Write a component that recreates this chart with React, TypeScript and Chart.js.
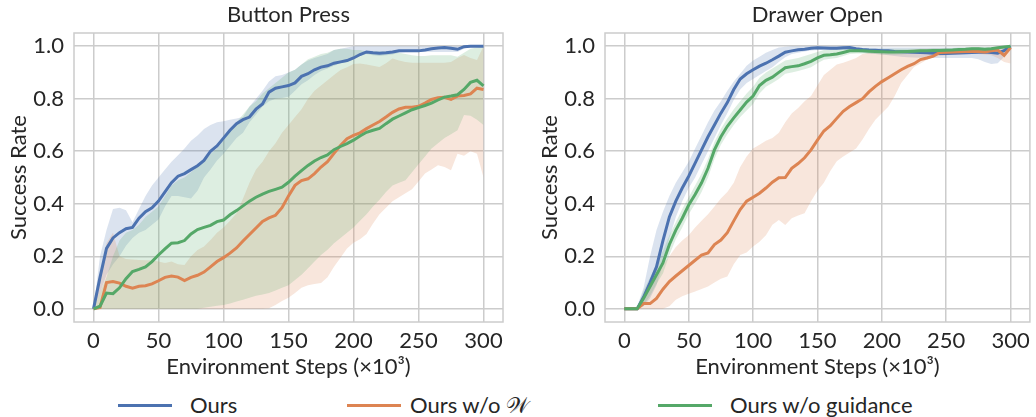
import React, { useEffect, useRef } from "react";
import { Chart, registerables } from "chart.js";

Chart.register(...registerables);

const FONT = "Lato";
const TEXT = "#262626";
const GRID = "#cccccc";

const steps = [0, 5, 10, 15, 20, 25, 30, 35, 40, 45, 50, 55, 60, 65, 70, 75, 80, 85, 90, 95, 100, 105, 110, 115, 120, 125, 130, 135, 140, 145, 150, 155, 160, 165, 170, 175, 180, 185, 190, 195, 200, 205, 210, 215, 220, 225, 230, 235, 240, 245, 250, 255, 260, 265, 270, 275, 280, 285, 290, 295, 300];
const xTicks = [0, 50, 100, 150, 200, 250, 300];
const yTicks = [0, 0.2, 0.4, 0.6, 0.8, 1.0];

const seriesNames = ["Ours", "Ours w/o 𝒲", "Ours w/o guidance"];
const lineColors = ["#4C72B0", "#DD8452", "#55A868"];
const bandColors = ["rgba(76,114,176,0.2)", "rgba(221,132,82,0.2)", "rgba(85,168,104,0.2)"];

// ---------- Button Press ----------
const bpOurs = [0, 0.12, 0.23, 0.27, 0.29, 0.305, 0.31, 0.345, 0.37, 0.385, 0.41, 0.445, 0.48, 0.505, 0.515, 0.53, 0.545, 0.565, 0.6, 0.62, 0.65, 0.68, 0.705, 0.72, 0.73, 0.76, 0.78, 0.825, 0.84, 0.845, 0.85, 0.86, 0.885, 0.895, 0.91, 0.92, 0.925, 0.935, 0.94, 0.945, 0.955, 0.968, 0.978, 0.975, 0.973, 0.975, 0.978, 0.982, 0.982, 0.982, 0.982, 0.985, 0.99, 0.993, 0.995, 0.992, 0.988, 0.998, 1.0, 1.0, 1.0];
const bpOursHi = [0, 0.2, 0.3, 0.38, 0.385, 0.375, 0.33, 0.38, 0.43, 0.47, 0.5, 0.53, 0.56, 0.585, 0.61, 0.64, 0.66, 0.685, 0.7, 0.71, 0.714, 0.72, 0.725, 0.73, 0.77, 0.8, 0.83, 0.865, 0.885, 0.89, 0.9, 0.91, 0.93, 0.945, 0.955, 0.962, 0.97, 0.985, 0.99, 0.995, 1.0, 1.0, 1.0, 1.0, 1.0, 1.0, 1.0, 1.0, 1.0, 1.0, 1.0, 1.0, 1.0, 1.0, 1.0, 1.0, 1.0, 1.0, 1.0, 1.0, 1.0];
const bpOursLo = [0, 0.06, 0.13, 0.17, 0.2, 0.24, 0.27, 0.29, 0.3, 0.32, 0.34, 0.39, 0.43, 0.43, 0.425, 0.42, 0.45, 0.5, 0.53, 0.565, 0.59, 0.62, 0.65, 0.67, 0.71, 0.74, 0.77, 0.79, 0.8, 0.803, 0.807, 0.83, 0.855, 0.87, 0.89, 0.905, 0.915, 0.925, 0.935, 0.94, 0.95, 0.962, 0.97, 0.965, 0.962, 0.965, 0.968, 0.975, 0.978, 0.978, 0.978, 0.978, 0.978, 0.978, 0.978, 0.978, 0.978, 0.99, 1.0, 1.0, 1.0];

const bpNoW = [0, 0.005, 0.1, 0.104, 0.098, 0.086, 0.079, 0.086, 0.088, 0.095, 0.107, 0.12, 0.125, 0.121, 0.108, 0.12, 0.128, 0.14, 0.16, 0.18, 0.195, 0.212, 0.232, 0.258, 0.283, 0.308, 0.333, 0.346, 0.356, 0.385, 0.43, 0.47, 0.488, 0.495, 0.515, 0.54, 0.56, 0.592, 0.622, 0.648, 0.66, 0.67, 0.686, 0.7, 0.713, 0.73, 0.748, 0.761, 0.767, 0.767, 0.771, 0.783, 0.797, 0.804, 0.805, 0.797, 0.81, 0.812, 0.818, 0.84, 0.835];
const bpNoWHi = [0, 0.12, 0.25, 0.29, 0.2, 0.19, 0.188, 0.186, 0.185, 0.185, 0.18, 0.175, 0.18, 0.17, 0.167, 0.2, 0.224, 0.237, 0.262, 0.29, 0.31, 0.335, 0.364, 0.42, 0.48, 0.53, 0.56, 0.6, 0.63, 0.67, 0.7, 0.73, 0.76, 0.8, 0.83, 0.85, 0.87, 0.89, 0.909, 0.92, 0.932, 0.934, 0.93, 0.925, 0.921, 0.935, 0.953, 0.945, 0.94, 0.937, 0.937, 0.937, 0.937, 0.937, 0.937, 0.94, 0.955, 0.966, 0.955, 0.947, 1.0];
const bpNoWLo = [0, 0, 0, 0, 0, 0, 0, 0, 0, 0, 0, 0, 0, 0, 0, 0, 0, 0, 0, 0, 0, 0, 0, 0, 0, 0, 0, 0.002, 0.015, 0.03, 0.042, 0.06, 0.08, 0.09, 0.095, 0.098, 0.12, 0.16, 0.195, 0.23, 0.252, 0.265, 0.285, 0.325, 0.36, 0.385, 0.41, 0.425, 0.44, 0.455, 0.485, 0.515, 0.53, 0.547, 0.54, 0.528, 0.59, 0.583, 0.6, 0.59, 0.5];

const bpNoGuide = [0, 0.01, 0.06, 0.058, 0.08, 0.115, 0.142, 0.15, 0.16, 0.18, 0.205, 0.228, 0.25, 0.252, 0.26, 0.285, 0.302, 0.31, 0.318, 0.332, 0.338, 0.358, 0.374, 0.392, 0.41, 0.425, 0.437, 0.447, 0.455, 0.463, 0.482, 0.505, 0.526, 0.546, 0.563, 0.576, 0.586, 0.606, 0.618, 0.629, 0.642, 0.658, 0.672, 0.68, 0.687, 0.705, 0.722, 0.734, 0.746, 0.758, 0.766, 0.774, 0.783, 0.795, 0.806, 0.81, 0.815, 0.835, 0.862, 0.87, 0.849];
const bpNoGuideHi = [0, 0.06, 0.12, 0.2, 0.26, 0.29, 0.3, 0.32, 0.35, 0.37, 0.39, 0.43, 0.47, 0.49, 0.5, 0.52, 0.54, 0.56, 0.59, 0.61, 0.64, 0.68, 0.71, 0.74, 0.77, 0.79, 0.82, 0.84, 0.86, 0.88, 0.9, 0.91, 0.93, 0.95, 0.96, 0.97, 0.975, 0.985, 0.99, 0.99, 0.985, 0.985, 0.98, 0.98, 0.98, 0.98, 0.98, 0.975, 0.97, 0.965, 0.962, 0.962, 0.965, 0.965, 0.965, 0.965, 0.96, 0.975, 0.99, 0.995, 1.0];
const bpNoGuideLo = [0, 0, 0, 0, 0, 0, 0, 0, 0, 0, 0, 0, 0, 0, 0, 0, 0, 0.004, 0.008, 0.012, 0.015, 0.02, 0.028, 0.035, 0.042, 0.05, 0.055, 0.06, 0.07, 0.08, 0.09, 0.11, 0.13, 0.155, 0.18, 0.205, 0.225, 0.25, 0.27, 0.29, 0.31, 0.335, 0.36, 0.39, 0.415, 0.445, 0.47, 0.48, 0.49, 0.52, 0.55, 0.58, 0.61, 0.63, 0.65, 0.665, 0.68, 0.738, 0.735, 0.72, 0.7];

// ---------- Drawer Open ----------
const doOurs = [0, 0, 0, 0.045, 0.1, 0.16, 0.26, 0.35, 0.41, 0.46, 0.505, 0.555, 0.605, 0.655, 0.7, 0.745, 0.785, 0.835, 0.875, 0.895, 0.91, 0.924, 0.935, 0.948, 0.962, 0.977, 0.982, 0.986, 0.988, 0.992, 0.994, 0.993, 0.992, 0.992, 0.994, 0.995, 0.99, 0.987, 0.985, 0.984, 0.982, 0.982, 0.98, 0.979, 0.978, 0.977, 0.976, 0.975, 0.973, 0.972, 0.972, 0.973, 0.974, 0.975, 0.976, 0.977, 0.978, 0.976, 0.973, 0.983, 1.0];
const doOursHi = [0, 0, 0.01, 0.08, 0.2, 0.3, 0.37, 0.43, 0.48, 0.52, 0.56, 0.61, 0.66, 0.71, 0.755, 0.79, 0.83, 0.865, 0.895, 0.925, 0.945, 0.96, 0.975, 0.985, 0.995, 0.998, 1.0, 1.0, 1.0, 1.0, 1.0, 1.0, 1.0, 1.0, 1.0, 1.0, 0.995, 0.995, 0.995, 0.995, 0.995, 0.995, 0.995, 0.995, 0.995, 0.995, 0.995, 0.995, 0.995, 0.995, 0.995, 0.995, 0.995, 0.995, 0.995, 0.995, 0.995, 0.995, 0.995, 1.0, 1.0];
const doOursLo = [0, 0, 0, 0.01, 0.04, 0.09, 0.17, 0.27, 0.35, 0.41, 0.46, 0.5, 0.55, 0.6, 0.65, 0.7, 0.745, 0.795, 0.835, 0.86, 0.875, 0.89, 0.905, 0.92, 0.94, 0.958, 0.97, 0.975, 0.98, 0.983, 0.985, 0.985, 0.985, 0.985, 0.985, 0.985, 0.98, 0.975, 0.972, 0.97, 0.968, 0.965, 0.962, 0.96, 0.958, 0.957, 0.956, 0.955, 0.955, 0.955, 0.955, 0.955, 0.955, 0.955, 0.955, 0.95, 0.94, 0.932, 0.935, 0.96, 1.0];

const doNoW = [0, 0, 0, 0.02, 0.02, 0.04, 0.075, 0.104, 0.125, 0.145, 0.165, 0.185, 0.205, 0.213, 0.245, 0.262, 0.29, 0.335, 0.378, 0.41, 0.425, 0.44, 0.46, 0.482, 0.499, 0.5, 0.535, 0.553, 0.575, 0.605, 0.642, 0.677, 0.697, 0.725, 0.752, 0.77, 0.785, 0.8, 0.826, 0.847, 0.865, 0.88, 0.895, 0.91, 0.923, 0.933, 0.949, 0.955, 0.962, 0.976, 0.977, 0.978, 0.979, 0.98, 0.981, 0.98, 0.978, 0.982, 0.985, 0.965, 0.995];
const doNoWHi = [0, 0, 0, 0.03, 0.09, 0.14, 0.17, 0.2, 0.235, 0.26, 0.28, 0.31, 0.335, 0.36, 0.39, 0.42, 0.445, 0.48, 0.54, 0.58, 0.61, 0.625, 0.64, 0.65, 0.67, 0.71, 0.744, 0.765, 0.79, 0.81, 0.85, 0.89, 0.91, 0.93, 0.937, 0.945, 0.955, 0.97, 0.975, 0.977, 0.978, 0.979, 0.98, 0.982, 0.985, 0.987, 0.99, 0.99, 0.99, 0.99, 0.99, 0.99, 0.99, 0.99, 0.99, 0.99, 0.99, 0.99, 0.99, 0.995, 1.0];
const doNoWLo = [0, 0, 0, 0, 0, 0, 0, 0.01, 0.035, 0.048, 0.058, 0.066, 0.076, 0.085, 0.1, 0.115, 0.123, 0.17, 0.205, 0.215, 0.237, 0.255, 0.28, 0.32, 0.338, 0.319, 0.345, 0.355, 0.364, 0.41, 0.45, 0.48, 0.525, 0.562, 0.58, 0.595, 0.61, 0.645, 0.685, 0.72, 0.745, 0.769, 0.81, 0.86, 0.89, 0.921, 0.934, 0.948, 0.959, 0.962, 0.965, 0.967, 0.968, 0.969, 0.97, 0.97, 0.968, 0.965, 0.955, 0.94, 0.934];

const doNoGuide = [0, 0, 0, 0.04, 0.085, 0.13, 0.175, 0.245, 0.3, 0.345, 0.395, 0.435, 0.48, 0.535, 0.605, 0.655, 0.695, 0.727, 0.757, 0.787, 0.81, 0.85, 0.87, 0.882, 0.9, 0.918, 0.922, 0.925, 0.933, 0.942, 0.955, 0.965, 0.967, 0.97, 0.976, 0.982, 0.982, 0.982, 0.981, 0.98, 0.979, 0.978, 0.978, 0.979, 0.98, 0.981, 0.982, 0.982, 0.983, 0.983, 0.984, 0.985, 0.987, 0.988, 0.99, 0.99, 0.988, 0.99, 0.994, 0.997, 1.0];
const doNoGuideHi = [0, 0, 0.005, 0.07, 0.12, 0.17, 0.22, 0.28, 0.33, 0.38, 0.425, 0.47, 0.515, 0.57, 0.635, 0.685, 0.725, 0.76, 0.79, 0.82, 0.845, 0.88, 0.9, 0.915, 0.93, 0.945, 0.95, 0.955, 0.962, 0.97, 0.978, 0.985, 0.987, 0.988, 0.99, 0.992, 0.992, 0.992, 0.99, 0.99, 0.99, 0.99, 0.99, 0.99, 0.99, 0.99, 0.99, 0.99, 0.992, 0.992, 0.992, 0.993, 0.995, 0.995, 0.996, 0.996, 0.995, 0.996, 0.998, 1.0, 1.0];
const doNoGuideLo = [0, 0, 0, 0.015, 0.05, 0.095, 0.135, 0.205, 0.265, 0.31, 0.36, 0.4, 0.445, 0.5, 0.57, 0.625, 0.665, 0.7, 0.73, 0.755, 0.78, 0.82, 0.845, 0.86, 0.875, 0.895, 0.9, 0.905, 0.912, 0.92, 0.935, 0.948, 0.952, 0.955, 0.962, 0.97, 0.972, 0.972, 0.972, 0.97, 0.968, 0.967, 0.967, 0.968, 0.97, 0.97, 0.972, 0.972, 0.973, 0.974, 0.975, 0.976, 0.978, 0.98, 0.982, 0.982, 0.98, 0.982, 0.988, 0.992, 1.0];

const panels = [
  {
    title: "Button Press",
    means: [bpOurs, bpNoW, bpNoGuide],
    his: [bpOursHi, bpNoWHi, bpNoGuideHi],
    los: [bpOursLo, bpNoWLo, bpNoGuideLo],
  },
  {
    title: "Drawer Open",
    means: [doOurs, doNoW, doNoGuide],
    his: [doOursHi, doNoWHi, doNoGuideHi],
    los: [doOursLo, doNoWLo, doNoGuideLo],
  },
];

const toPts = (ys: number[]) => steps.map((x, i) => ({ x, y: ys[i] }));

const framePlugin = {
  id: "frame",
  beforeDatasetsDraw(chart: any) {
    const { ctx, chartArea: a } = chart;
    ctx.save();
    ctx.strokeStyle = GRID;
    ctx.lineWidth = 1.5;
    ctx.strokeRect(a.left, a.top, a.right - a.left, a.bottom - a.top);
    ctx.restore();
  },
};

function buildConfig(p: any, padRight: number) {
  const datasets: any[] = [];
  // lines (drawn last -> on top)
  [0, 1, 2].forEach((k) => {
    datasets.push({
      label: seriesNames[k],
      data: toPts(p.means[k]),
      borderColor: lineColors[k],
      backgroundColor: lineColors[k],
      borderWidth: 3,
      pointRadius: 0,
      tension: 0,
      fill: false,
      order: 2 - k,
    });
  });
  // bands
  [0, 1, 2].forEach((k) => {
    datasets.push({
      label: seriesNames[k] + " hi",
      data: toPts(p.his[k]),
      borderColor: "rgba(0,0,0,0)",
      borderWidth: 0,
      backgroundColor: bandColors[k],
      pointRadius: 0,
      tension: 0,
      fill: "+1",
      order: 10 - k,
    });
    datasets.push({
      label: seriesNames[k] + " lo",
      data: toPts(p.los[k]),
      borderColor: "rgba(0,0,0,0)",
      borderWidth: 0,
      backgroundColor: "rgba(0,0,0,0)",
      pointRadius: 0,
      tension: 0,
      fill: false,
      order: 10 - k,
    });
  });

  const font = { family: FONT, size: 22 };
  return {
    type: "line",
    data: { datasets },
    options: {
      animation: false,
      responsive: false,
      maintainAspectRatio: false,
      layout: { padding: { left: 0, right: padRight, top: 0, bottom: 0 } },
      plugins: {
        legend: { display: false },
        tooltip: { enabled: false },
        title: {
          display: true,
          text: p.title,
          fullSize: false,
          color: TEXT,
          font: { family: FONT, size: 22, weight: "normal", lineHeight: 1.2 },
          padding: { top: 2, bottom: 4.6 },
        },
      },
      scales: {
        x: {
          type: "linear",
          min: -15,
          max: 315,
          afterBuildTicks: (s: any) => {
            s.ticks = xTicks.map((v) => ({ value: v }));
          },
          afterFit: (s: any) => {
            s.height = 58;
          },
          grid: { color: GRID, lineWidth: 1.5, drawTicks: false },
          border: { display: false },
          ticks: {
            font,
            color: TEXT,
            padding: 6,
            maxRotation: 0,
            callback: (v: any) => String(v),
          },
          title: {
            display: true,
            text: "Environment Steps (×10³)",
            font: { family: FONT, size: 22, lineHeight: 1.2 },
            color: TEXT,
            padding: { top: 0, bottom: 0 },
          },
        },
        y: {
          type: "linear",
          min: -0.05,
          max: 1.05,
          afterBuildTicks: (s: any) => {
            s.ticks = yTicks.map((v) => ({ value: v }));
          },
          afterFit: (s: any) => {
            s.width = 74;
          },
          grid: { color: GRID, lineWidth: 1.5, drawTicks: false },
          border: { display: false },
          ticks: {
            font,
            color: TEXT,
            padding: 10,
            callback: (v: any) => Number(v).toFixed(1),
          },
          title: {
            display: true,
            text: "Success Rate",
            font: { family: FONT, size: 22, lineHeight: 1.2 },
            color: TEXT,
            padding: { top: 6, bottom: 0 },
          },
        },
      },
    },
    plugins: [framePlugin],
  };
}

const legendItems = [
  { lineLeft: 118, textLeft: 190 },
  { lineLeft: 347, textLeft: 410 },
  { lineLeft: 658, textLeft: 730 },
];

export default function App() {
  const leftRef = useRef<HTMLCanvasElement>(null);
  const rightRef = useRef<HTMLCanvasElement>(null);

  useEffect(() => {
    const c1 = new Chart(leftRef.current as any, buildConfig(panels[0], 15) as any);
    const c2 = new Chart(rightRef.current as any, buildConfig(panels[1], 2) as any);
    return () => {
      c1.destroy();
      c2.destroy();
    };
  }, []);

  return (
    <div
      style={{
        position: "absolute",
        left: 0,
        top: 0,
        width: 1036,
        height: 417,
        background: "#ffffff",
        fontFamily: FONT,
        overflow: "hidden",
      }}
    >
      <canvas ref={leftRef} width={518} height={380} style={{ position: "absolute", left: 0, top: 0 }} />
      <canvas ref={rightRef} width={505} height={380} style={{ position: "absolute", left: 531, top: 0 }} />
      {legendItems.map((it, k) => (
        <React.Fragment key={k}>
          <div
            style={{
              position: "absolute",
              left: it.lineLeft,
              top: 403.5,
              width: 54,
              height: 3,
              background: lineColors[k],
            }}
          />
          <div
            style={{
              position: "absolute",
              left: it.textLeft,
              top: 392,
              lineHeight: "26px",
              fontSize: 22,
              color: TEXT,
              whiteSpace: "nowrap",
            }}
          >
            {seriesNames[k]}
          </div>
        </React.Fragment>
      ))}
    </div>
  );
}
